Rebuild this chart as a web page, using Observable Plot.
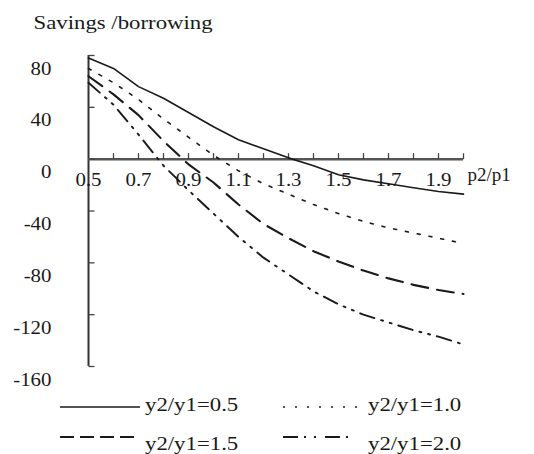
<!DOCTYPE html>
<html><head><meta charset="utf-8">
<script src="https://cdn.jsdelivr.net/npm/d3@7"></script>
<script src="https://cdn.jsdelivr.net/npm/@observablehq/plot@0.6"></script>
<style>
body{margin:0;background:#fff;}
#chart{width:534px;}
#chart svg{display:block;}
</style></head><body><div id="chart"></div>
<script>
const ratios = [0.5,0.6,0.7,0.8,0.9,1.0,1.1,1.2,1.3,1.4,1.5,1.6,1.7,1.8,1.9,2.0];
const seriesNames = ["y2/y1=0.5","y2/y1=1.0","y2/y1=1.5","y2/y1=2.0"];
const s05 = [78,70,56,47,36,25,15,8,1,-5,-12,-16,-19,-22,-25,-27];
const s10 = [70,59,46,31,17,3,-9,-19,-27,-35,-42,-48,-53,-57,-61,-65];
const s15 = [64,50,34,14,-4,-18,-35,-50,-61,-71,-79,-86,-92,-97,-101,-104];
const s20 = [59,42,19,-5,-24,-42,-60,-76,-89,-102,-112,-120,-126,-132,-137,-143];
const xTickLabels = [0.5,0.7,0.9,1.1,1.3,1.5,1.7,1.9];
const xTickMarks = [0.6,0.7,0.8,0.9,1.0,1.1,1.2,1.3,1.4,1.5,1.6,1.7,1.8,1.9,2.0];
const yTickLabels = [80,40,0,-40,-80,-120,-160];
const xDomain = [0.5, 2.0];
const yDomain = [-160, 80];
const yTitle = "Savings /borrowing";
const xTitle = "p2/p1";

const allSeries = [s05, s10, s15, s20];
const rows = seriesNames.flatMap((name, k) => ratios.map((r, i) => ({ratio: r, value: allSeries[k][i], series: name})));

const lineStyles = [
  {strokeWidth: 1.6, strokeDasharray: null},
  {strokeWidth: 1.6, strokeDasharray: "3,9"},
  {strokeWidth: 2.1, strokeDasharray: "17,9"},
  {strokeWidth: 1.9, strokeDasharray: "15,7,2,7,2,7"}
];
const legendDash = [null, "2,10", "14,6", "15,6,2,8,2,9"];

const upTick = {draw(ctx){ ctx.moveTo(0,0); ctx.lineTo(0,-6); }};
const rightTick = {draw(ctx){ ctx.moveTo(0,0); ctx.lineTo(6,0); }};
const ink = "#1a1a1a";

const lineMarks = seriesNames.map((name, k) =>
  Plot.line(rows.filter(d => d.series === name), {
    x: "ratio", y: "value", stroke: ink, strokeWidth: lineStyles[k].strokeWidth,
    strokeDasharray: lineStyles[k].strokeDasharray
  })
);

const fig = Plot.plot({
  width: 534, height: 390,
  marginLeft: 88, marginRight: 71, marginTop: 55, marginBottom: 24,
  style: {fontFamily: "'Liberation Serif', 'Times New Roman', serif", fontSize: "19px", background: "#fff", color: ink},
  x: {domain: xDomain, axis: null},
  y: {domain: yDomain, axis: null},
  marks: [
    Plot.ruleX([xDomain[0]], {y1: yDomain[0], y2: yDomain[1], stroke: "#333", strokeWidth: 2}),
    Plot.ruleY([0], {x1: xDomain[0], x2: xDomain[1], stroke: "#555", strokeWidth: 2.5}),
    Plot.dot(xTickMarks, {x: d => d, y: 0, symbol: upTick, fill: "none", stroke: "#444", strokeWidth: 1.3}),
    Plot.dot(yTickLabels, {x: xDomain[0], y: d => d, symbol: rightTick, fill: "none", stroke: "#444", strokeWidth: 1.3}),
    ...lineMarks,
    Plot.text(xTickLabels, {x: d => d, y: 0, dy: 21, text: d => d.toFixed(1), fill: ink}),
    Plot.text(yTickLabels, {x: xDomain[0], y: d => d, dx: -37, dy: 13, textAnchor: "end", text: d => String(d), fill: ink}),
    Plot.text([yTitle], {frameAnchor: "top-left", dx: -55, dy: -33, textAnchor: "start", lineAnchor: "middle", text: d => d, fill: ink}),
    Plot.text([xTitle], {x: () => xDomain[1], y: () => 0, dx: 4, dy: 16, textAnchor: "start", text: d => d, fill: ink})
  ]
});
document.getElementById("chart").appendChild(fig);

// legend
const leg = d3.select("#chart").append("svg").attr("width", 534).attr("height", 64)
  .style("font-family", "'Liberation Serif', 'Times New Roman', serif").style("font-size", "19px");
const legPos = [
  {x1: 60, x2: 140, tx: 145, ly: 17, ty: 15},
  {x1: 283, x2: 358, tx: 368, ly: 17, ty: 15},
  {x1: 60, x2: 140, tx: 145, ly: 47, ty: 54},
  {x1: 283, x2: 356, tx: 368, ly: 47, ty: 54}
];
seriesNames.forEach((name, k) => {
  const p = legPos[k];
  leg.append("line").attr("x1", p.x1).attr("x2", p.x2).attr("y1", p.ly).attr("y2", p.ly)
    .attr("stroke", ink).attr("stroke-width", k >= 2 ? 2 : 1.6)
    .attr("stroke-dasharray", legendDash[k]);
  leg.append("text").attr("x", p.tx).attr("y", p.ty).attr("dy", "0.32em").attr("fill", ink).text(name);
});

// widen glyphs horizontally (about each text's own anchor) to match the reference's wide serif rendering
document.querySelectorAll("#chart text").forEach(t => {
  const s = t.textContent;
  const k = s === xTitle ? 1.0 : (/^-?[\d.]+$/.test(s) ? 1.1 : 1.2);
  const xa = t.getAttribute("x");
  const x = xa && !/em/.test(xa) ? parseFloat(xa) || 0 : 0;
  const tr = t.getAttribute("transform") || "";
  t.setAttribute("transform", `${tr} translate(${x},0) scale(${k},1) translate(${-x},0)`.trim());
});
</script>
</body></html>
